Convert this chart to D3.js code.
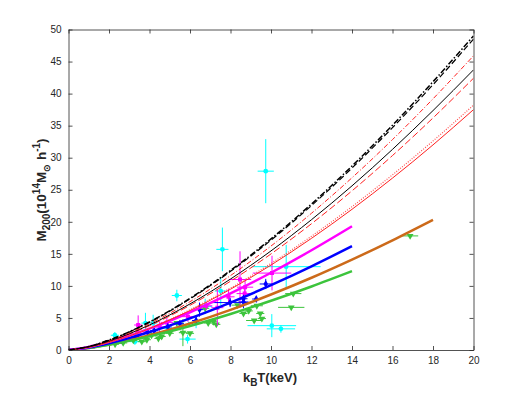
<!DOCTYPE html>
<html>
<head>
<meta charset="utf-8">
<script src="https://cdn.jsdelivr.net/npm/d3@7"></script>
<style>
  body { margin: 0; background: #fff; }
  text { font-family: "Liberation Sans", Arial, sans-serif; }
</style>
</head>
<body>
<svg id="chart" width="523" height="393"></svg>
<script>
// model curves, read at these temperatures (keV)
var tGrid = [0, 1, 2, 4, 6, 8, 10, 12, 14, 16, 18, 20];
var blackDashDot = [0, 0.55, 1.55, 4.38, 8.06, 12.40, 17.33, 22.78, 28.70, 35.07, 41.85, 49.0];
var blackDashed  = [0, 0.54, 1.53, 4.34, 7.97, 12.27, 17.14, 22.53, 28.39, 34.69, 41.39, 48.5];
var redDashDot   = [0, 0.51, 1.45, 4.10, 7.54, 11.61, 16.22, 21.33, 26.87, 32.83, 39.18, 45.9];
var blackSolid   = [0, 0.49, 1.38, 3.91, 7.19, 11.07, 15.46, 20.33, 25.61, 31.30, 37.35, 43.7];
var redDashed    = [0, 0.47, 1.34, 3.79, 6.97, 10.73, 14.99, 19.70, 24.83, 30.34, 36.20, 42.4];
var redDotted    = [0, 0.43, 1.21, 3.42, 6.28, 9.66, 13.50, 17.75, 22.37, 27.33, 32.61, 38.2];
var redSolid     = [0, 0.42, 1.19, 3.35, 6.16, 9.48, 13.25, 17.42, 21.95, 26.82, 32.0, 37.5];

// thick fitted lines
var tFit = [0, 1, 2, 4, 6, 8, 10, 12, 14];
var magentaFit = [0, 0.48, 1.27, 3.34, 5.89, 8.82, 12.05, 15.56, 19.3];
var blueFit    = [0, 0.40, 1.06, 2.80, 4.94, 7.40, 10.12, 13.06, 16.2];
var greenFit   = [0, 0.31, 0.81, 2.13, 3.75, 5.62, 7.68, 9.91, 12.3];
var tOrange = [0, 1, 2, 4, 6, 8, 10, 12, 14, 16, 18];
var orangeFit = [0, 0.31, 0.84, 2.29, 4.13, 6.26, 8.66, 11.27, 14.10, 17.11, 20.3];

// cluster samples: [T, M, xerr, yerr]
var cyanPts = [
  [9.74, 27.9, 0.4, 5.0], [7.6, 15.7, 0.3, 3.4], [5.35, 8.5, 0.25, 0.9], [7.52, 9.2, 0.3, 2.2],
  [6.75, 6.8, 0.35, 1.2], [10.75, 13.0, 1.7, 3.4], [5.88, 1.7, 0.4, 0.7], [10.04, 3.8, 1.2, 1.8],
  [10.49, 3.3, 0.7, 0.6], [3.8, 4.2, 0.2, 1.6], [4.18, 4.2, 0.2, 1.3], [2.29, 2.3, 0.2, 0.5],
  [3.28, 1.3, 0.3, 0.5], [4.9, 3.4, 0.3, 0.6], [6.3, 4.3, 0.4, 0.9]
];
var magentaPts = [
  [8.47, 11.0, 0.55, 4.4], [8.72, 9.8, 0.4, 1.0], [8.7, 8.8, 0.4, 0.8], [10.05, 12.0, 0.95, 2.7],
  [7.9, 8.3, 0.3, 1.2], [7.35, 6.6, 0.3, 2.8], [5.9, 5.2, 0.3, 0.8], [4.86, 4.3, 0.3, 0.7],
  [4.5, 3.6, 0.2, 0.8], [3.44, 3.9, 0.2, 1.5], [3.4, 2.6, 0.2, 0.6], [2.8, 2.0, 0.2, 0.4],
  [1.9, 1.2, 0.15, 0.3], [1.2, 0.5, 0.1, 0.2], [6.8, 6.9, 0.3, 0.6]
];
var bluePts = [
  [9.74, 10.3, 0.3, 0.8], [9.27, 7.95, 0.2, 0.4], [8.64, 7.5, 0.25, 1.0], [8.64, 8.0, 0.2, 0.6],
  [7.98, 7.4, 0.95, 0.7], [6.47, 6.3, 0.2, 1.1], [6.3, 4.6, 0.2, 0.6], [5.5, 4.1, 0.2, 0.5],
  [4.23, 3.0, 0.2, 0.5], [3.9, 2.8, 0.2, 0.4], [3.3, 2.1, 0.2, 0.4], [2.6, 1.5, 0.15, 0.3],
  [4.9, 3.6, 0.2, 0.5]
];
var greenPts = [
  [16.87, 17.8, 0.4, 0], [11.0, 6.65, 0.65, 0], [11.1, 8.8, 0.4, 0], [9.3, 6.9, 0.3, 0],
  [9.47, 5.7, 0.2, 0], [9.55, 4.9, 0.2, 0], [9.17, 4.6, 0.4, 0], [8.9, 6.1, 0.2, 0],
  [8.64, 5.7, 0.2, 0], [8.35, 7.0, 0.3, 0], [7.16, 4.4, 0.2, 0], [6.9, 4.2, 0.2, 0],
  [7.3, 4.0, 0.2, 0], [6.75, 6.5, 0.2, 0], [6.0, 2.6, 0.2, 0], [5.65, 2.7, 0.2, 2.1],
  [5.35, 4.2, 0.2, 0], [4.44, 1.8, 0.2, 0], [4.6, 2.1, 0.2, 0], [3.87, 1.6, 0.2, 0],
  [3.62, 1.3, 0.2, 0], [3.2, 1.5, 0.2, 0], [2.7, 1.1, 0.2, 0], [2.3, 0.9, 0.2, 0],
  [4.1, 2.3, 0.2, 0.4], [5.0, 2.6, 0.2, 0.3]
];

var xTicks = [0, 2, 4, 6, 8, 10, 12, 14, 16, 18, 20];
var yTicks = [0, 5, 10, 15, 20, 25, 30, 35, 40, 45, 50];

var svg = d3.select("#chart");
var pLeft = 68.5, pRight = 473.5, pTop = 29.5, pBottom = 350;

var x = d3.scaleLinear().domain([0, 20]).range([pLeft, pRight]);
var y = d3.scaleLinear().domain([0, 50]).range([pBottom, pTop]);

var plot = svg.append("g");
plot.append("clipPath").attr("id", "clip")
  .append("rect").attr("x", pLeft).attr("y", pTop).attr("width", pRight - pLeft).attr("height", pBottom - pTop);

var g = plot.append("g").attr("clip-path", "url(#clip)");

function drawCurve(ts, ms, color, width, dash) {
  var line = d3.line()
    .x(function(d, i) { return x(ts[i]); })
    .y(function(d) { return y(d); })
    .curve(d3.curveMonotoneX);
  g.append("path")
    .attr("d", line(ms))
    .attr("fill", "none")
    .attr("stroke", color)
    .attr("stroke-width", width)
    .attr("stroke-dasharray", dash || null);
}

function drawPoints(pts, color, shape) {
  var grp = g.append("g");
  pts.forEach(function(p) {
    var cx = x(p[0]), cy = y(p[1]);
    if (p[2] > 0) grp.append("line").attr("x1", x(p[0] - p[2])).attr("x2", x(p[0] + p[2]))
      .attr("y1", cy).attr("y2", cy).attr("stroke", color).attr("stroke-width", 1);
    if (p[3] > 0) grp.append("line").attr("x1", cx).attr("x2", cx)
      .attr("y1", y(p[1] - p[3])).attr("y2", y(p[1] + p[3])).attr("stroke", color).attr("stroke-width", 1);
  });
  grp.selectAll("path.m").data(pts).enter().append("path")
    .attr("class", "m")
    .attr("d", d3.symbol().type(shape.type).size(shape.size))
    .attr("transform", function(p) {
      return "translate(" + x(p[0]) + "," + y(p[1]) + ")" + (shape.rot ? " rotate(" + shape.rot + ")" : "");
    })
    .attr("fill", color);
}

// data points first, lines on top
drawPoints(cyanPts, "#00ffff", { type: d3.symbolCircle, size: 18 });
drawPoints(greenPts, "#3cc43c", { type: d3.symbolTriangle, size: 20, rot: 180 });
drawPoints(magentaPts, "#ff00ff", { type: d3.symbolSquare, size: 16 });
drawPoints(bluePts, "#0000ff", { type: d3.symbolDiamond, size: 18 });

drawCurve(tOrange, orangeFit, "#cc6a1a", 2.5);
drawCurve(tFit, greenFit, "#3cc43c", 2.5);
drawCurve(tFit, blueFit, "#0000ff", 2.5);
drawCurve(tFit, magentaFit, "#ff00ff", 2.5);

drawCurve(tGrid, redSolid, "#ff2020", 1);
drawCurve(tGrid, redDotted, "#ff5050", 1.2, "1,1.5");
drawCurve(tGrid, redDashed, "#ff2020", 1, "7,3");
drawCurve(tGrid, blackSolid, "#000", 1);
drawCurve(tGrid, redDashDot, "#ff2020", 1, "5,2,1,2");
drawCurve(tGrid, blackDashed, "#000", 1.2, "6,3");
drawCurve(tGrid, blackDashDot, "#000", 1.5, "6,2,1.5,2");

// axes box with inward ticks on all sides
var axisColor = "#262626";
var xb = plot.append("g").attr("transform", "translate(0," + pBottom + ")")
  .call(d3.axisBottom(x).tickValues(xTicks).tickSizeInner(-4).tickSizeOuter(0).tickPadding(7));
var xt = plot.append("g").attr("transform", "translate(0," + pTop + ")")
  .call(d3.axisTop(x).tickValues(xTicks).tickSizeInner(-4).tickSizeOuter(0).tickFormat(""));
var yl = plot.append("g").attr("transform", "translate(" + pLeft + ",0)")
  .call(d3.axisLeft(y).tickValues(yTicks).tickSizeInner(-4).tickSizeOuter(0).tickPadding(7));
var yr = plot.append("g").attr("transform", "translate(" + pRight + ",0)")
  .call(d3.axisRight(y).tickValues(yTicks).tickSizeInner(-4).tickSizeOuter(0).tickFormat(""));

[xb, xt, yl, yr].forEach(function(a) {
  a.select(".domain").attr("stroke", axisColor).attr("stroke-width", 0.8);
  a.selectAll(".tick line").attr("stroke", axisColor).attr("stroke-width", 0.8);
  a.selectAll(".tick text").attr("fill", axisColor)
    .style("font-family", "'Liberation Sans', Arial, sans-serif").style("font-size", "10px");
});

// axis labels
var xlab = svg.append("text")
  .attr("x", 270).attr("y", 382)
  .attr("text-anchor", "middle")
  .style("font-size", "13px").style("font-weight", "bold").attr("fill", axisColor);
xlab.append("tspan").text("k");
xlab.append("tspan").attr("dy", 4).style("font-size", "10px").text("B");
xlab.append("tspan").attr("dy", -4).text("T(keV)");

var ylab = svg.append("text")
  .attr("transform", "translate(46,190) rotate(-90)")
  .attr("text-anchor", "middle")
  .style("font-size", "13.5px").style("font-weight", "bold").attr("fill", axisColor);
ylab.append("tspan").text("M");
ylab.append("tspan").attr("dy", 4).style("font-size", "10px").text("200");
ylab.append("tspan").attr("dy", -4).text("(10");
ylab.append("tspan").attr("dy", -6).style("font-size", "10px").text("14");
ylab.append("tspan").attr("dy", 6).text("M");
ylab.append("tspan").attr("dy", 4).style("font-size", "9px").text("\u2299");
ylab.append("tspan").attr("dy", -4).text(" h");
ylab.append("tspan").attr("dy", -6).style("font-size", "10px").text("-1");
ylab.append("tspan").attr("dy", 6).text(")");
</script>
</body>
</html>
